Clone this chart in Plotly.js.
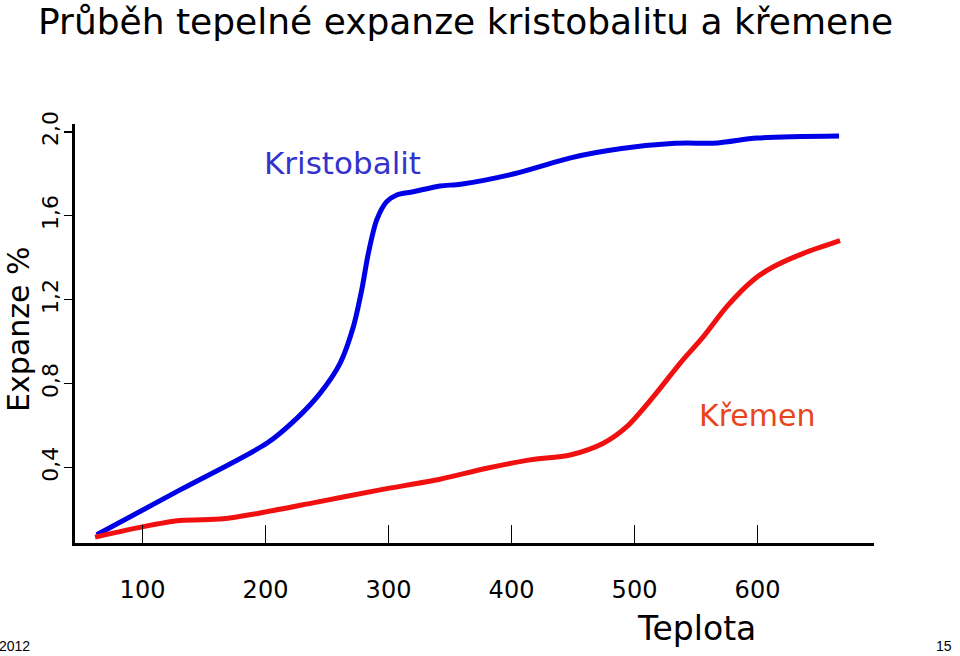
<!DOCTYPE html>
<html>
<head>
<meta charset="utf-8">
<script src="https://cdn.plot.ly/plotly-3.0.1.min.js"></script>
<style>
  html, body { margin: 0; padding: 0; background: #fff; }
  #plot { width: 960px; height: 656px; }
</style>
</head>
<body>
<div id="plot"></div>
<script>
// teplota (°C) a roztažnost (%)
var kristTemp = [62.8, 130.5, 201, 225.4, 244.3, 260.6, 271.4, 278.2, 283.6, 290.4, 298.5, 306.7, 319.9, 341.9, 358.7, 402.2, 448.9, 489.5, 533.1, 567.8, 599.6, 666.3];
var kristExp  = [0.08, 0.294, 0.516, 0.635, 0.754, 0.897, 1.071, 1.246, 1.421, 1.58, 1.667, 1.699, 1.714, 1.742, 1.75, 1.8, 1.877, 1.92, 1.945, 1.947, 1.97, 1.98];

var kremTemp = [61.4, 100.7, 130.5, 165.4, 195.5, 238.6, 293.1, 341.9, 379.8, 415.0, 447.6, 474.6, 493.7, 515.3, 537.0, 556.0, 575.0, 596.6, 612.9, 637.3, 667.1];
var kremExp  = [0.069, 0.119, 0.148, 0.156, 0.184, 0.232, 0.294, 0.345, 0.397, 0.437, 0.46, 0.516, 0.595, 0.738, 0.897, 1.024, 1.167, 1.294, 1.357, 1.421, 1.481];

var xTicks = [100, 200, 300, 400, 500, 600];
var yTicks = [0.4, 0.8, 1.2, 1.6, 2.0];
var yTickText = ["0,4", "0,8", "1,2", "1,6", "2,0"];

var font = "Comic Sans MS, DejaVu Sans, sans-serif";

var kristobalit = {
    x: kristTemp,
    y: kristExp,
    name: "Kristobalit",
    mode: "lines",
    line: {color: "#0000e6", width: 5, shape: "spline", smoothing: 0.8}
}

var kremen = {
    x: kremTemp,
    y: kremExp,
    name: "Křemen",
    mode: "lines",
    line: {color: "#f01010", width: 5, shape: "spline", smoothing: 0.8}
}

var layout = {
    width: 960,
    height: 656,
    margin: {l: 75, r: 86, t: 124, b: 113},
    paper_bgcolor: "#fff",
    plot_bgcolor: "#fff",
    showlegend: false,
    font: {family: font, color: "#000"},
    title: {
        text: "Průběh tepelné expanze kristobalitu a křemene",
        x: 38 / 960, xanchor: "left", xref: "container",
        y: 0.968, yanchor: "middle", yref: "container",
        font: {size: 36, color: "#000"}
    },
    xaxis: {
        range: [45.1, 694.7],
        tickvals: xTicks,
        ticks: "inside",
        ticklen: 18,
        tickwidth: 1.5,
        tickcolor: "#000",
        ticklabelstandoff: 23,
        tickfont: {size: 24},
        showline: true,
        linewidth: 3,
        linecolor: "#000",
        showgrid: false,
        zeroline: false
    },
    yaxis: {
        range: [0.041, 2.037],
        tickvals: yTicks,
        ticktext: yTickText,
        ticks: "outside",
        ticklen: 8,
        tickwidth: 1.5,
        tickcolor: "#000",
        tickangle: -90,
        ticklabelstandoff: -3,
        tickfont: {size: 22, family: "DejaVu Sans, sans-serif"},
        showline: true,
        linewidth: 3,
        linecolor: "#000",
        showgrid: false,
        zeroline: false
    },
    annotations: [
        {text: "Kristobalit", x: 342, y: 163, showarrow: false,
         font: {size: 31, color: "#3333cc"}},
        {text: "Křemen", x: 757, y: 415, showarrow: false,
         font: {size: 30, color: "#e8451c"}},
        {text: "Teplota", x: 696, y: 628, showarrow: false,
         font: {size: 33}},
        {text: "Expanze %", x: 18, y: 330, textangle: -90, showarrow: false,
         font: {size: 30}},
        {text: "2012", x: 15, y: 646, showarrow: false, font: {size: 14, family: "Liberation Sans, sans-serif"}},
        {text: "15", x: 944, y: 646, showarrow: false, font: {size: 14, family: "Liberation Sans, sans-serif"}}
    ]
}

// pozice popisků zadané v pixelech stránky -> převod na paper souřadnice
layout.annotations.forEach(function (a) {
    a.xref = "paper";
    a.yref = "paper";
    a.x = (a.x - 75) / (960 - 75 - 86);
    a.y = 1 - (a.y - 124) / (656 - 124 - 113);
    a.xanchor = "center";
    a.yanchor = "middle";
});

Plotly.newPlot("plot", [kristobalit, kremen], layout, {staticPlot: true})
</script>
</body>
</html>
